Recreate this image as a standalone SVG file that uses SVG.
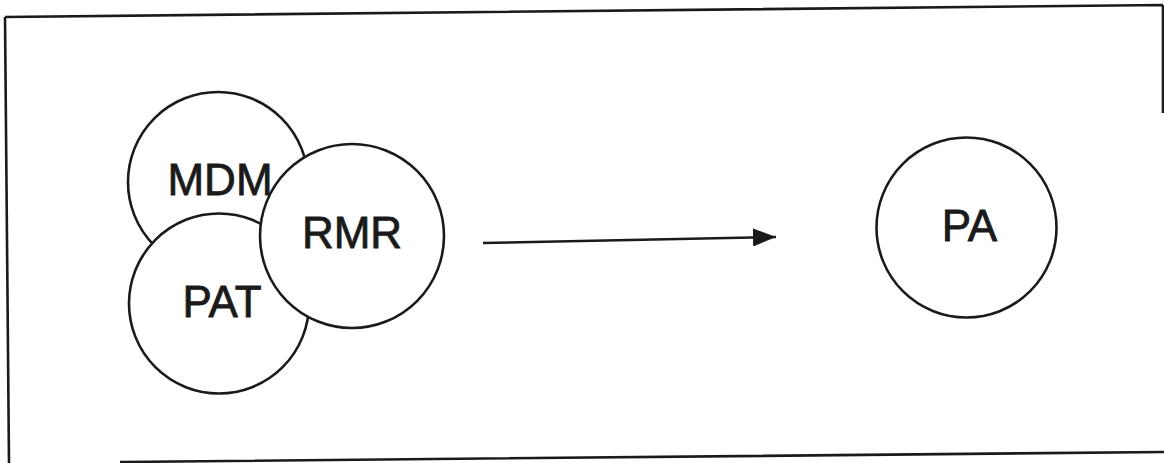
<svg xmlns="http://www.w3.org/2000/svg" width="1164" height="463" viewBox="0 0 1164 463">
<style>
.frame{fill:none;stroke:#1a1a1a;stroke-width:2.6}
.node{fill:#fff;stroke:#1a1a1a;stroke-width:2.6}
.lbl{font-family:"Liberation Sans",Arial,sans-serif;font-size:44px;fill:#1a1a1a;stroke:#1a1a1a;stroke-width:0.8;text-anchor:middle}
.conn{fill:none;stroke:#1a1a1a;stroke-width:2.4}
</style>
<defs>
<marker id="arr" markerWidth="23" markerHeight="18" refX="23" refY="9" orient="auto" markerUnits="userSpaceOnUse">
<path d="M0,0 L23,9 L0,18 Z" fill="#1a1a1a"/>
</marker>
</defs>
<rect width="1164" height="463" fill="#fff"/>
<g id="frame">
<path class="frame" d="M5,17 L1163,5 M5,17 L9,463 M120,462 L1164,452 M1163,5 L1163,113"/>
</g>
<g id="node-mdm">
<circle class="node" cx="218" cy="182" r="90"/>
<text class="lbl" x="220" y="195">MDM</text>
</g>
<g id="node-pat">
<circle class="node" cx="219" cy="303.5" r="90"/>
<text class="lbl" x="222" y="317">PAT</text>
</g>
<g id="node-rmr">
<circle class="node" cx="352" cy="236" r="92"/>
<text class="lbl" x="352" y="248">RMR</text>
</g>
<g id="node-pa">
<circle class="node" cx="966.5" cy="227.5" r="90"/>
<text class="lbl" x="969.5" y="241">PA</text>
</g>
<g id="connectors">
<line class="conn" x1="483" y1="243" x2="776" y2="237" marker-end="url(#arr)"/>
</g>
</svg>
